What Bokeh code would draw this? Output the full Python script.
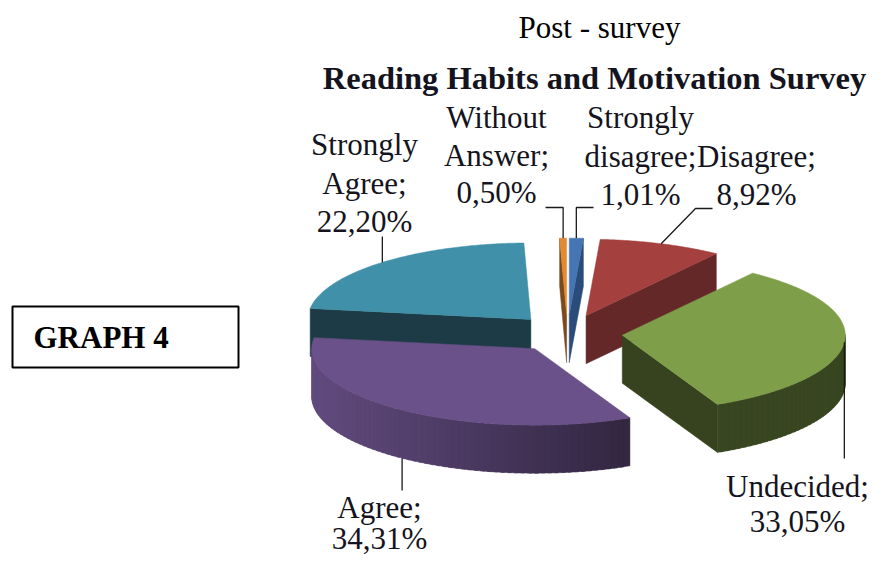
import numpy as np
from bokeh.plotting import figure
from bokeh.models import Range1d
from bokeh.embed import file_html
from bokeh.resources import INLINE
from bokeh.core.properties import value

# ---------------- data ----------------
categories = ["Strongly disagree", "Disagree", "Undecided", "Agree", "Strongly Agree", "Without Answer"]
percents = [1.01, 8.92, 33.05, 34.31, 22.20, 0.50]
label_names = [["Strongly", "disagree;"], ["Disagree;"], ["Undecided;"], ["Agree;"], ["Strongly", "Agree;"], ["Without", "Answer;"]]
chart_title = "Reading Habits and Motivation Survey"
page_title = "Post - survey"
box_text = "GRAPH 4"

# ---------------- styles / layout ----------------
top_colors = ["#4575B2", "#A4403D", "#7F9E4A", "#6A5189", "#3F90A8", "#E28A32"]
cut_colors = ["#2A4C7A", "#652828", "#37431F", "#3A2C4E", "#1C3B46", "#7A4A1E"]
CX, CY = 567.0, 333.0      # pie centre (picture px)
R = 223.0                  # horizontal radius
T = 0.343                  # vertical squash (tilt)
DEPTH = 48.0               # thickness
EXPLODE = 55.0             # explosion distance
FONT = "Liberation Serif"
TEXT_COLOR = "#141420"
TDY = -11                  # baseline correction for text placement

# label centre x and first baseline y, line spacing
label_pos = [(640, 128), (756, 167), (797, 497), (379, 518), (364, 155), (496, 128)]
label_step = [38.5, 38.0, 35.0, 31.0, 38.5, 37.5]
# leader: extra points after the anchor on the slice
leader_pts = [[(None, 207), (593, 207)],
              [(695, 208), (712, 208)],
              [(None, 458)],
              [(None, 490)],
              [(None, 236)],
              [(None, 207), (545, 207)]]
leader_on_bottom = [False, False, False, True, False, False]

p = figure(width=869, height=557, x_range=Range1d(0, 869), y_range=Range1d(557, 0),
           x_axis_type=None, y_axis_type=None, toolbar_location=None,
           output_backend="svg", min_border=0, outline_line_color=None)
p.grid.visible = False
p.background_fill_color = "white"


def shade(hexcol, f):
    h = hexcol.lstrip("#")
    r, g, b = (int(h[i:i + 2], 16) for i in (0, 2, 4))
    return "#%02x%02x%02x" % tuple(max(0, min(255, int(round(c * f)))) for c in (r, g, b))


total = sum(percents)
starts, ends = [], []
acc = 0.0
for v in percents:
    starts.append(acc / total * 2 * np.pi)
    acc += v
    ends.append(acc / total * 2 * np.pi)

slices = []
for i, v in enumerate(percents):
    a0, a1 = starts[i], ends[i]
    mid = 0.5 * (a0 + a1)
    ccx = CX + EXPLODE * np.sin(mid)
    ccy = CY - EXPLODE * T * np.cos(mid)
    slices.append((ccy, i, a0, a1, mid, ccx))


def pt(ccx, ccy, a, down=0.0):
    return ccx + R * np.sin(a), ccy - R * T * np.cos(a) + down


xs_all, ys_all, fc_all = [], [], []
for ccy, i, a0, a1, mid, ccx in sorted(slices):
    # cut faces
    for a, vis in ((a0, np.sin(a0) < -1e-9), (a1, np.sin(a1) > 1e-9)):
        if vis:
            ox, oy = pt(ccx, ccy, a)
            xs_all.append([ccx, ox, ox, ccx])
            ys_all.append([ccy, oy, oy + DEPTH, ccy + DEPTH])
            fc_all.append(cut_colors[i])
    # outer wall (front facing part), drawn as overlapping strips
    n = max(4, int((a1 - a0) / 0.03))
    angs = np.linspace(a0, a1, n + 1)
    step = angs[1] - angs[0]
    for k in range(n):
        b0 = angs[k]
        b1 = min(a1, angs[k + 1] + 0.6 * step)
        if np.cos(0.5 * (angs[k] + angs[k + 1])) < 0:
            sub = np.linspace(b0, b1, 4)
            top = [pt(ccx, ccy, a) for a in sub]
            xm = 0.5 * (top[0][0] + top[-1][0])
            f = float(np.clip(0.92 - 0.45 * (xm - 313) / 316, 0.44, 0.95))
            xs_all.append([q[0] for q in top] + [q[0] for q in top[::-1]])
            ys_all.append([q[1] for q in top] + [q[1] + DEPTH for q in top[::-1]])
            fc_all.append(shade(top_colors[i], f))
    # top face
    arc = np.linspace(a0, a1, max(3, n * 3 + 1))
    tx = [ccx] + [pt(ccx, ccy, a)[0] for a in arc]
    ty = [ccy] + [pt(ccx, ccy, a)[1] for a in arc]
    xs_all.append(tx)
    ys_all.append(ty)
    fc_all.append(top_colors[i])

p.patches(xs=xs_all, ys=ys_all, fill_color=fc_all, line_color=fc_all, line_width=0.5)

# leader lines
lx, ly = [], []
for ccy, i, a0, a1, mid, ccx in slices:
    ax, ay = pt(ccx, ccy, mid, DEPTH if leader_on_bottom[i] else 0.0)
    xs = [ax]
    ys = [ay]
    for (px, py) in leader_pts[i]:
        xs.append(ax if px is None else px)
        ys.append(py)
    lx.append(xs)
    ly.append(ys)
p.multi_line(xs=lx, ys=ly, line_color="#1a1a1a", line_width=1.3)

# data labels
tx, ty, tt = [], [], []
for i, v in enumerate(percents):
    lines = label_names[i] + [("%.2f" % v).replace(".", ",") + "%"]
    x0, y0 = label_pos[i]
    for k, s in enumerate(lines):
        tx.append(x0)
        ty.append(y0 + k * label_step[i] + TDY)
        tt.append(s)
p.text(x=tx, y=ty, text=tt, text_font=value(FONT), text_font_size=value("31px"),
       text_align="center", text_baseline="alphabetic", text_color=TEXT_COLOR)

# titles
p.text(x=[599], y=[38 + TDY], text=[page_title], text_font=value(FONT), text_font_size=value("31px"),
       text_align="center", text_baseline="alphabetic", text_color="black")
p.text(x=[594], y=[88 + TDY], text=[chart_title], text_font=value(FONT), text_font_size=value("32.5px"),
       text_font_style="bold", text_align="center", text_baseline="alphabetic", text_color=TEXT_COLOR)

# GRAPH 4 box
p.quad(left=[12], right=[238], top=[306], bottom=[367], fill_color="white",
       line_color="black", line_width=2)
p.text(x=[33], y=[348 + TDY], text=[box_text], text_font=value(FONT), text_font_size=value("31px"),
       text_font_style="bold", text_align="left", text_baseline="alphabetic", text_color="black")

open("out.html", "w").write(file_html(p, INLINE))
